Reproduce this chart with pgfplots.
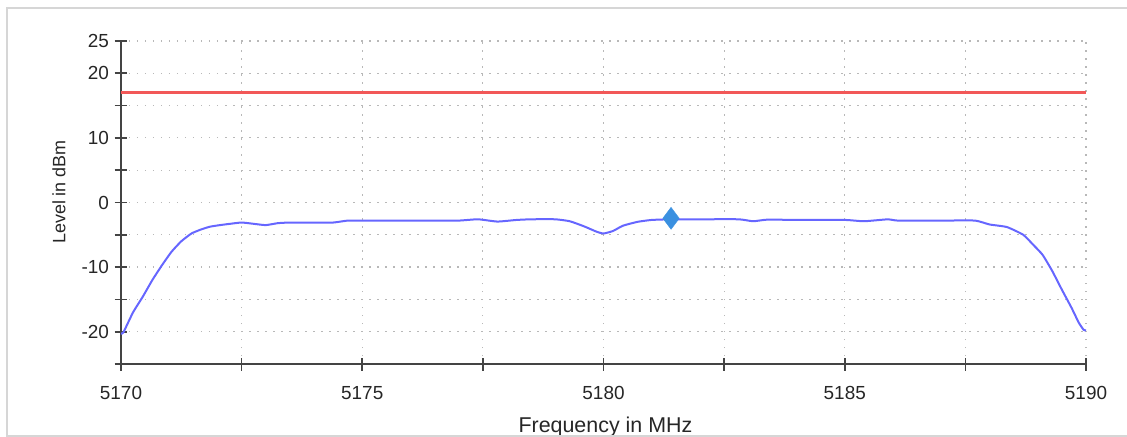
\documentclass[border=0pt]{standalone}
\usepackage{pgfplots}
\pgfplotsset{compat=1.18}
\usepackage{fontspec}
\setmainfont{Liberation Sans}
\definecolor{axcol}{HTML}{444444}
\definecolor{txtcol}{HTML}{262626}
\definecolor{curve}{HTML}{6666FF}
\definecolor{limit}{HTML}{F25858}
\definecolor{mk}{HTML}{3A90E0}
\definecolor{gridc}{HTML}{B8B8B8}
\definecolor{frame}{HTML}{D6D6D6}
\begin{document}
\begin{tikzpicture}
\path[use as bounding box] (-121bp,-73bp) rectangle (1006bp,364bp);
\begin{axis}[
  at={(0,0)}, anchor=south west,
  scale only axis, width=965bp, height=323bp,
  xmin=5170, xmax=5190, ymin=-25, ymax=25,
  axis x line=bottom, axis y line=left,
  axis line style={-, draw=axcol, line width=2bp},
  xtick={5170,5172.5,...,5190},
  xticklabels={5170,,5175,,5180,,5185,,5190},
  ytick={-25,-20,...,25},
  yticklabels={,-20,,-10,,0,,10,,20,25},
  tick align=center,
  major tick length=13bp,
  tick style={draw=axcol, line width=1.6bp},
  grid=major,
  major grid style={draw=gridc, line width=1.2bp, dash pattern=on 1.5bp off 6.5bp},
  tick label style={font=\fontsize{19}{22}\selectfont, text=txtcol},
  xticklabel style={yshift=-12bp},
  yticklabel style={xshift=-2bp},
  xlabel={Frequency in MHz},
  ylabel={Level in dBm},
  every axis x label/.style={at={(axis description cs:0.502,-0.2136)}, anchor=base, font=\fontsize{21.5}{25}\selectfont, text=txtcol},
  every axis y label/.style={at={(axis description cs:-0.0642,0.5325)}, anchor=center, rotate=90, font=\fontsize{18}{21}\selectfont, text=txtcol},
]
\addplot[limit, line width=3bp] coordinates {(5170,17) (5190,17)};
\addplot[curve, line width=2bp, line join=round, smooth, tension=0.3] coordinates {
(5170.0,-20.3) (5170.05,-20.1) (5170.25,-17.0) (5170.45,-14.6) (5170.65,-12.0)
(5170.85,-9.7) (5171.05,-7.6) (5171.25,-6.0) (5171.46,-4.8) (5171.65,-4.2)
(5171.84,-3.75) (5172.05,-3.5) (5172.26,-3.3) (5172.5,-3.1) (5172.75,-3.3)
(5173.0,-3.5) (5173.25,-3.2) (5173.5,-3.1) (5174.0,-3.1) (5174.4,-3.1)
(5174.7,-2.8) (5175.0,-2.8) (5175.5,-2.8) (5176.0,-2.8) (5176.5,-2.8)
(5177.0,-2.8) (5177.4,-2.6) (5177.8,-2.95) (5178.2,-2.7) (5178.5,-2.6)
(5179.0,-2.6) (5179.3,-2.9) (5179.6,-3.7) (5179.85,-4.5) (5180.0,-4.8)
(5180.2,-4.4) (5180.4,-3.6) (5180.7,-3.0) (5181.0,-2.7) (5181.4,-2.6)
(5182.0,-2.6) (5182.8,-2.6) (5183.1,-2.9) (5183.4,-2.65) (5184.0,-2.7)
(5185.0,-2.7) (5185.4,-2.9) (5185.9,-2.6) (5186.1,-2.8) (5187.0,-2.8)
(5187.7,-2.8) (5188.0,-3.4) (5188.36,-3.8) (5188.7,-5.0) (5188.9,-6.5)
(5189.1,-8.1) (5189.3,-10.6) (5189.5,-13.5) (5189.7,-16.3) (5189.85,-18.6)
(5189.95,-19.7) (5190.0,-19.8)
};
\addplot[only marks, mark=diamond*, mark size=11bp, mark options={fill=mk, draw=mk}] coordinates {(5181.4,-2.45)};
\end{axis}
\draw[frame, line width=1.5bp] (1006bp,356bp) -- (-114bp,356bp) -- (-114bp,-72bp) -- (1006bp,-72bp);
\end{tikzpicture}
\end{document}
